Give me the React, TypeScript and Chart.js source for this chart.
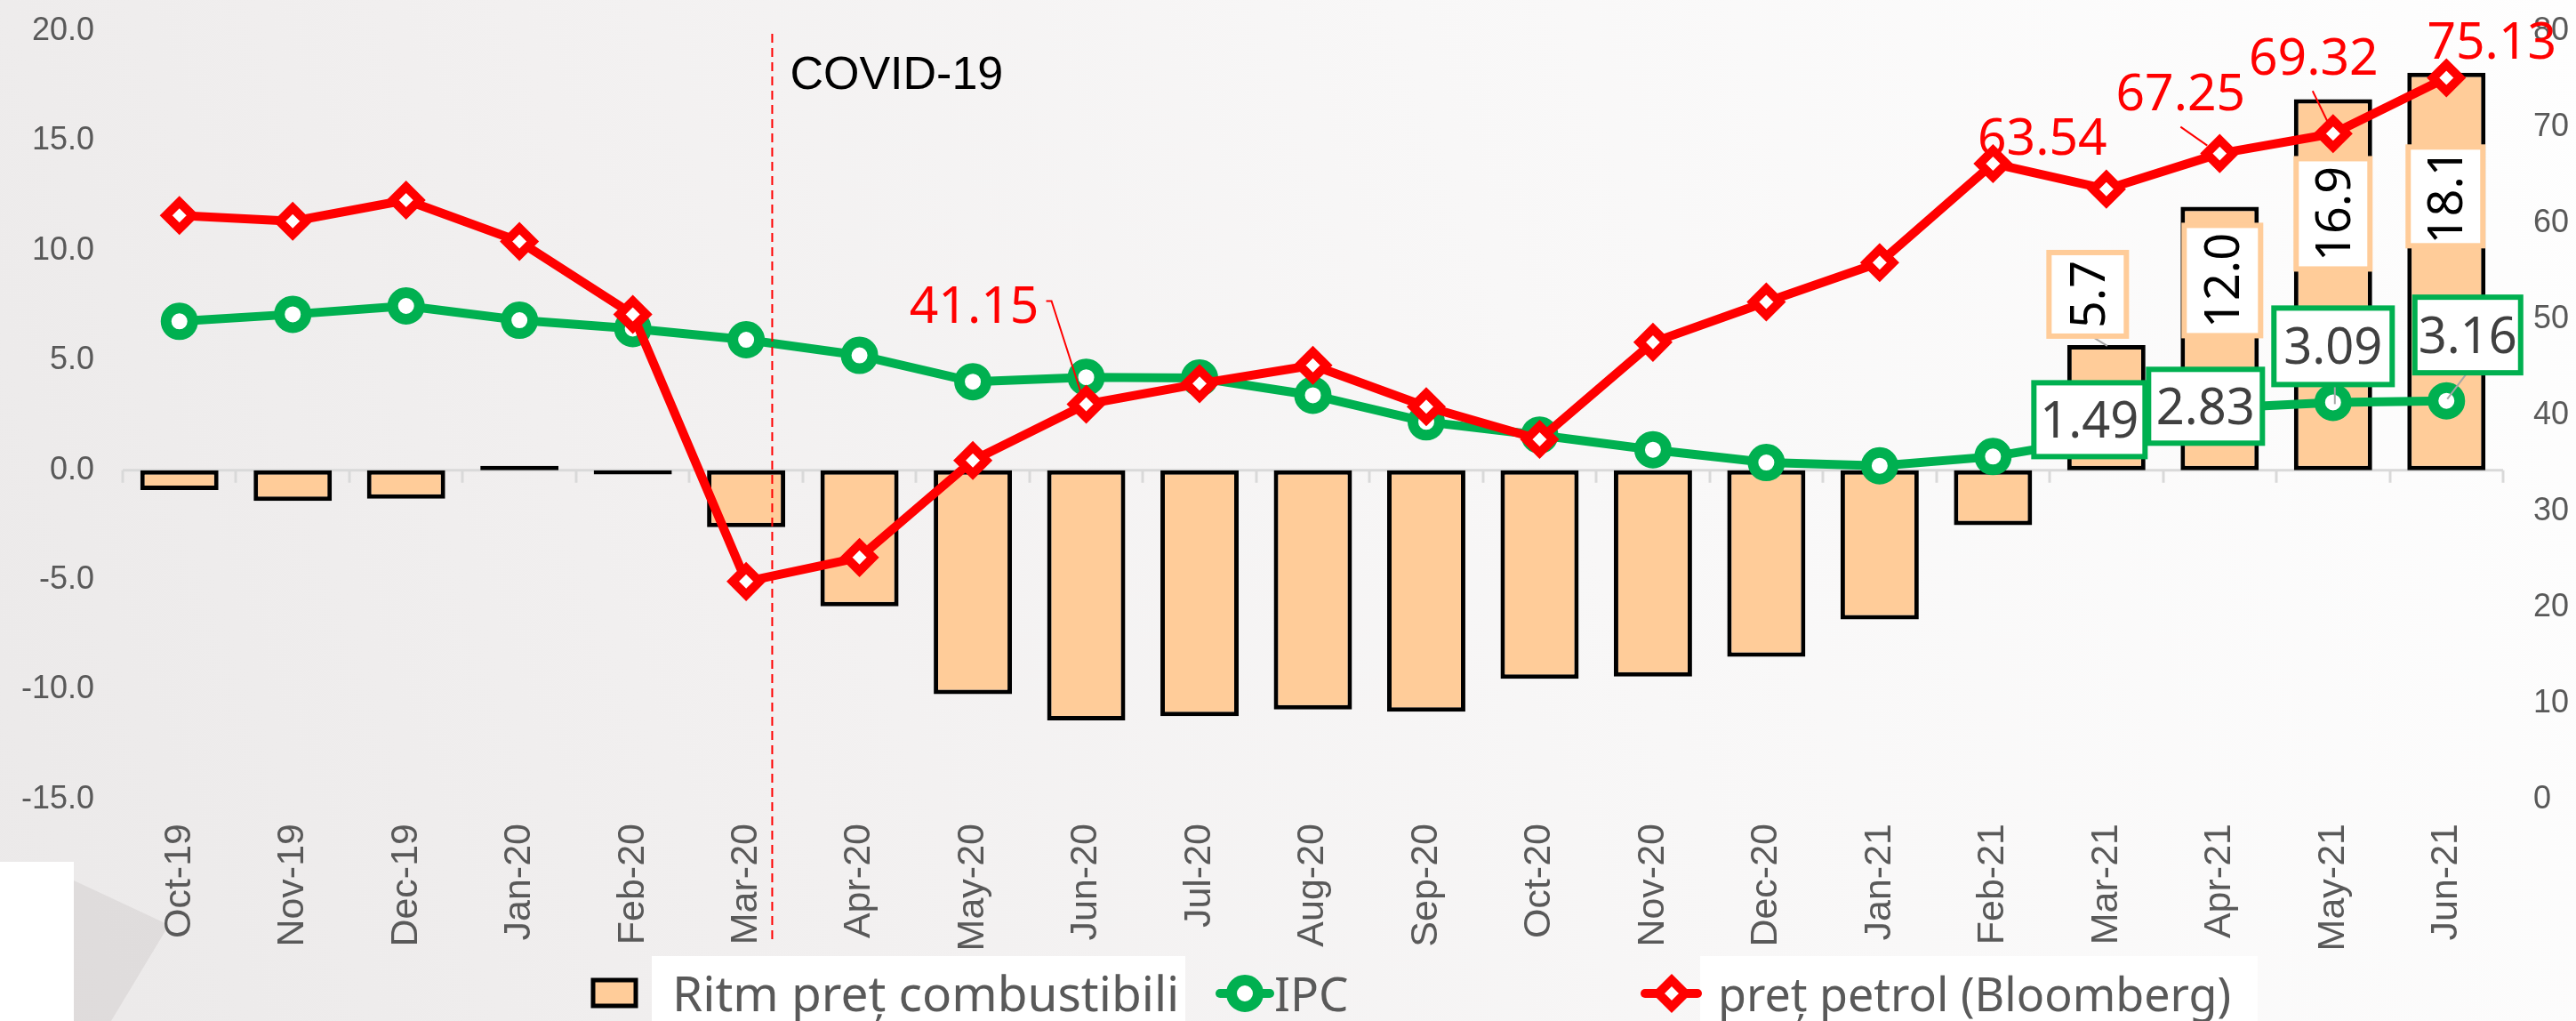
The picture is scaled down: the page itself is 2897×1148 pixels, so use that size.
import { useEffect, useRef } from "react";
import { Chart, registerables } from "chart.js";

Chart.register(...registerables);

// ---------- data ----------
const categories = [
  "Oct-19", "Nov-19", "Dec-19", "Jan-20", "Feb-20", "Mar-20", "Apr-20",
  "May-20", "Jun-20", "Jul-20", "Aug-20", "Sep-20", "Oct-20", "Nov-20",
  "Dec-20", "Jan-21", "Feb-21", "Mar-21", "Apr-21", "May-21", "Jun-21",
];
const fuelRate = [
  -0.9, -1.4, -1.3, 0.2, -0.2, -2.6, -6.2, -10.2, -11.4, -11.2, -10.9,
  -11.0, -9.5, -9.4, -8.5, -6.8, -2.5, 5.7, 12.0, 16.9, 18.1,
];
const ipc = [
  6.78, 7.1, 7.48, 6.83, 6.45, 5.94, 5.23, 4.03, 4.23, 4.2, 3.41, 2.2,
  1.6, 0.93, 0.35, 0.2, 0.62, 1.49, 2.83, 3.09, 3.16,
];
const oilPrice = [
  60.8, 60.2, 62.4, 58.1, 50.5, 22.7, 25.2, 35.3, 41.15, 43.3, 45.2, 40.9,
  37.5, 47.6, 51.8, 55.9, 66.2, 63.54, 67.25, 69.32, 75.13,
];
const leftTicks = { min: -15, max: 20, step: 5 };
const rightTicks = { min: 0, max: 80, step: 10 };
const covidLabel = "COVID-19";
const legendLabels = ["Ritm preț combustibili", "IPC", "preț petrol (Bloomberg)"];

// ---------- label placement (styling) ----------
const redLabelPos: Record<number, { dx: number; dy: number; leader?: number[][] }> = {
  8: { dx: -126, dy: -113, leader: [[-45, -116], [-39, -116], [-4, -7]] },
  17: { dx: -72, dy: -60 },
  18: { dx: -44, dy: -70, leader: [[-44, -30], [-14, -9]] },
  19: { dx: -22, dy: -87, leader: [[-23, -48], [-5, -11]] },
  20: { dx: 51, dy: -43 },
};
const greenLabelPos: Record<number, { dx: number; dy: number; w: number; h: number; leader?: number[][] }> = {
  17: { dx: -19, dy: -20, w: 125, h: 83 },
  18: { dx: -16, dy: -2, w: 128, h: 83 },
  19: { dx: 0, dy: -63, w: 133, h: 86, leader: [[2, -20], [2, 2]] },
  20: { dx: 24, dy: -74, w: 119, h: 85, leader: [[23, -31], [1, -2]] },
};
const barLabelPos: Record<number, { dx: number; dy: number; w: number; h: number; leader?: number[][] }> = {
  17: { dx: -21, dy: -57, w: 87, h: 94, leader: [[-17, -10], [1, 1]] },
  18: { dx: 3, dy: 83, w: 86, h: 124 },
  19: { dx: 0, dy: 129, w: 83, h: 124 },
  20: { dx: -1, dy: 139, w: 84, h: 111 },
};

const FONT_LBL = '"Noto Sans", "Open Sans", sans-serif';
const FONT_AX = '"Liberation Sans", Arial, sans-serif';
const GREEN = "#00B050";
const RED = "#FF0000";
const PEACH = "#FFCC99";
const GREY_TXT = "#595959";

function drawPolyline(ctx: CanvasRenderingContext2D, px: number, py: number, pts: number[][], color: string, w: number) {
  ctx.save();
  ctx.strokeStyle = color;
  ctx.lineWidth = w;
  ctx.beginPath();
  pts.forEach((p, k) => {
    if (k === 0) ctx.moveTo(px + p[0], py + p[1]);
    else ctx.lineTo(px + p[0], py + p[1]);
  });
  ctx.stroke();
  ctx.restore();
}

function drawCircleMarker(ctx: CanvasRenderingContext2D, x: number, y: number) {
  ctx.save();
  ctx.beginPath();
  ctx.arc(x, y, 15, 0, Math.PI * 2);
  ctx.fillStyle = "#fff";
  ctx.fill();
  ctx.lineWidth = 12;
  ctx.strokeStyle = GREEN;
  ctx.stroke();
  ctx.restore();
}

function drawDiamondMarker(ctx: CanvasRenderingContext2D, x: number, y: number) {
  const r = 15;
  ctx.save();
  ctx.beginPath();
  ctx.moveTo(x - r, y);
  ctx.lineTo(x, y - r);
  ctx.lineTo(x + r, y);
  ctx.lineTo(x, y + r);
  ctx.closePath();
  ctx.fillStyle = "#fff";
  ctx.fill();
  ctx.lineWidth = 10;
  ctx.strokeStyle = RED;
  ctx.stroke();
  ctx.restore();
}

const decorPlugin = {
  id: "decor",
  beforeDraw(chart: any) {
    const ctx = chart.ctx as CanvasRenderingContext2D;
    ctx.save();
    ctx.fillStyle = "rgba(200,196,196,0.35)";
    ctx.beginPath();
    ctx.moveTo(83, 990);
    ctx.lineTo(190, 1040);
    ctx.lineTo(125, 1148);
    ctx.lineTo(83, 1148);
    ctx.closePath();
    ctx.fill();
    ctx.fillStyle = "#ffffff";
    ctx.fillRect(0, 969, 83, 179);
    ctx.fillRect(733, 1075, 600, 73);
    ctx.fillRect(1912, 1075, 627, 73);
    ctx.restore();
  },
  beforeDatasetsDraw(chart: any) {
    const ctx = chart.ctx as CanvasRenderingContext2D;
    const { left, right } = chart.chartArea;
    const y0 = chart.scales.y.getPixelForValue(0);
    const n = categories.length;
    const cw = (right - left) / n;
    ctx.save();
    ctx.strokeStyle = "#D9D9D9";
    ctx.lineWidth = 3;
    ctx.beginPath();
    ctx.moveTo(left, y0);
    ctx.lineTo(right, y0);
    for (let i = 0; i <= n; i++) {
      const x = Math.round(left + i * cw);
      ctx.moveTo(x, y0);
      ctx.lineTo(x, y0 + 14);
    }
    ctx.stroke();
    ctx.restore();
  },
  afterDatasetsDraw(chart: any) {
    const ctx = chart.ctx as CanvasRenderingContext2D;
    const xs = chart.scales.x;
    const ys = chart.scales.y;
    const y1s = chart.scales.y1;
    const cw = (chart.chartArea.right - chart.chartArea.left) / categories.length;

    const covidX = xs.getPixelForValue(5) + 0.23 * cw;
    ctx.save();
    ctx.strokeStyle = RED;
    ctx.lineWidth = 2;
    ctx.setLineDash([10, 6]);
    ctx.beginPath();
    ctx.moveTo(covidX, 38);
    ctx.lineTo(covidX, 1059);
    ctx.stroke();
    ctx.setLineDash([]);
    ctx.fillStyle = "#000";
    ctx.font = `52px ${FONT_AX}`;
    ctx.textAlign = "left";
    ctx.textBaseline = "alphabetic";
    ctx.fillText(covidLabel, covidX + 20, 100);
    ctx.restore();

    Object.keys(barLabelPos).forEach((k) => {
      const i = Number(k);
      const p = barLabelPos[i];
      const px = xs.getPixelForValue(i);
      const py = ys.getPixelForValue(fuelRate[i]);
      if (p.leader) drawPolyline(ctx, px, py, p.leader, "#A6A6A6", 2);
      const cx = px + p.dx;
      const cy = py + p.dy;
      ctx.save();
      ctx.fillStyle = "#fff";
      ctx.fillRect(cx - p.w / 2, cy - p.h / 2, p.w, p.h);
      ctx.strokeStyle = PEACH;
      ctx.lineWidth = 6;
      ctx.strokeRect(cx - p.w / 2, cy - p.h / 2, p.w, p.h);
      ctx.translate(cx, cy);
      ctx.rotate(-Math.PI / 2);
      ctx.fillStyle = "#000";
      ctx.font = `54px ${FONT_LBL}`;
      ctx.textAlign = "center";
      ctx.textBaseline = "alphabetic";
      ctx.fillText(fuelRate[i].toFixed(1), 0, 19);
      ctx.restore();
    });

    Object.keys(greenLabelPos).forEach((k) => {
      const i = Number(k);
      const p = greenLabelPos[i];
      const px = xs.getPixelForValue(i);
      const py = ys.getPixelForValue(ipc[i]);
      if (p.leader) drawPolyline(ctx, px, py, p.leader, "#A6A6A6", 2);
      const cx = px + p.dx;
      const cy = py + p.dy;
      ctx.save();
      ctx.fillStyle = "#fff";
      ctx.fillRect(cx - p.w / 2, cy - p.h / 2, p.w, p.h);
      ctx.strokeStyle = GREEN;
      ctx.lineWidth = 6;
      ctx.strokeRect(cx - p.w / 2, cy - p.h / 2, p.w, p.h);
      ctx.fillStyle = "#404040";
      ctx.font = `56px ${FONT_LBL}`;
      ctx.textAlign = "center";
      ctx.textBaseline = "alphabetic";
      ctx.fillText(ipc[i].toFixed(2), cx, cy + 20);
      ctx.restore();
    });

    Object.keys(redLabelPos).forEach((k) => {
      const i = Number(k);
      const p = redLabelPos[i];
      const px = xs.getPixelForValue(i);
      const py = y1s.getPixelForValue(oilPrice[i]);
      if (p.leader) drawPolyline(ctx, px, py, p.leader, RED, 2);
      ctx.save();
      ctx.fillStyle = RED;
      ctx.font = `57px ${FONT_LBL}`;
      ctx.textAlign = "center";
      ctx.textBaseline = "alphabetic";
      ctx.fillText(oilPrice[i].toFixed(2), px + p.dx, py + p.dy + 21);
      ctx.restore();
    });
  },
  afterDraw(chart: any) {
    const ctx = chart.ctx as CanvasRenderingContext2D;
    ctx.save();
    ctx.fillStyle = PEACH;
    ctx.fillRect(667, 1102, 48, 29);
    ctx.strokeStyle = "#000";
    ctx.lineWidth = 5;
    ctx.strokeRect(667, 1102, 48, 29);
    ctx.font = `55px ${FONT_LBL}`;
    ctx.fillStyle = GREY_TXT;
    ctx.textAlign = "left";
    ctx.textBaseline = "alphabetic";
    ctx.fillText(legendLabels[0], 756, 1137);
    ctx.strokeStyle = GREEN;
    ctx.lineWidth = 10;
    ctx.lineCap = "round";
    ctx.beginPath();
    ctx.moveTo(1372, 1117);
    ctx.lineTo(1428, 1117);
    ctx.stroke();
    drawCircleMarker(ctx, 1400, 1117);
    ctx.font = `53px ${FONT_LBL}`;
    ctx.fillStyle = GREY_TXT;
    ctx.fillText(legendLabels[1], 1433, 1137);
    ctx.strokeStyle = RED;
    ctx.lineWidth = 10;
    ctx.beginPath();
    ctx.moveTo(1850, 1117);
    ctx.lineTo(1909, 1117);
    ctx.stroke();
    drawDiamondMarker(ctx, 1880, 1117);
    ctx.font = `52px ${FONT_LBL}`;
    ctx.fillStyle = GREY_TXT;
    ctx.fillText(legendLabels[2], 1932, 1137);
    ctx.restore();
  },
};

export default function App() {
  const ref = useRef<HTMLCanvasElement>(null);
  useEffect(() => {
    if (!ref.current) return;
    const chart = new Chart(ref.current, {
      type: "bar",
      data: {
        labels: categories,
        datasets: [
          {
            type: "bar",
            label: legendLabels[0],
            data: fuelRate,
            backgroundColor: PEACH,
            borderColor: "#000000",
            borderWidth: 5,
            borderSkipped: false,
            barPercentage: 0.69,
            categoryPercentage: 1,
            yAxisID: "y",
            order: 3,
          } as any,
          {
            type: "line",
            label: legendLabels[1],
            data: ipc,
            borderColor: GREEN,
            borderWidth: 10,
            borderJoinStyle: "round",
            borderCapStyle: "round",
            pointStyle: "circle",
            pointRadius: 15,
            pointBorderWidth: 12,
            pointBackgroundColor: "#ffffff",
            pointBorderColor: GREEN,
            tension: 0,
            yAxisID: "y",
            order: 2,
          } as any,
          {
            type: "line",
            label: legendLabels[2],
            data: oilPrice,
            borderColor: RED,
            borderWidth: 10,
            borderJoinStyle: "round",
            borderCapStyle: "round",
            pointStyle: "rectRot",
            pointRadius: 15,
            pointBorderWidth: 10,
            pointBackgroundColor: "#ffffff",
            pointBorderColor: RED,
            tension: 0,
            yAxisID: "y1",
            order: 1,
          } as any,
        ],
      },
      options: {
        responsive: false,
        animation: false,
        layout: { padding: { top: 0, left: 0, right: 0, bottom: 0 } },
        plugins: { legend: { display: false }, tooltip: { enabled: false } },
        scales: {
          x: {
            type: "category",
            offset: true,
            grid: { display: false, drawTicks: false },
            border: { display: false },
            ticks: {
              autoSkip: false,
              maxRotation: 90,
              minRotation: 90,
              padding: 27,
              color: GREY_TXT,
              font: { family: FONT_AX, size: 43 },
            },
            afterFit: (s: any) => {
              s.height = 249;
            },
          },
          y: {
            position: "left",
            min: leftTicks.min,
            max: leftTicks.max,
            grid: { display: false, drawTicks: false },
            border: { display: false },
            ticks: {
              stepSize: leftTicks.step,
              padding: 32,
              color: GREY_TXT,
              font: { family: FONT_AX, size: 36, lineHeight: 0.05 },
              callback: (v: any) => Number(v).toFixed(1),
            },
            afterFit: (s: any) => {
              s.width = 138;
            },
          },
          y1: {
            position: "right",
            min: rightTicks.min,
            max: rightTicks.max,
            grid: { display: false, drawTicks: false },
            border: { display: false },
            ticks: {
              stepSize: rightTicks.step,
              padding: 34,
              color: GREY_TXT,
              font: { family: FONT_AX, size: 36, lineHeight: 0.05 },
            },
            afterFit: (s: any) => {
              s.width = 82;
            },
          },
        },
      } as any,
      plugins: [decorPlugin],
    });
    return () => chart.destroy();
  }, []);

  return (
    <div
      style={{
        position: "fixed",
        left: 0,
        top: 0,
        width: 2897,
        height: 1148,
        background:
          "linear-gradient(70deg, #ebe9e9 0%, #f2f0f0 30%, #f8f7f7 60%, #fefefe 100%)",
      }}
    >
      <canvas
        ref={ref}
        width={2897}
        height={1148}
        style={{ display: "block", width: 2897, height: 1148 }}
      />
    </div>
  );
}
